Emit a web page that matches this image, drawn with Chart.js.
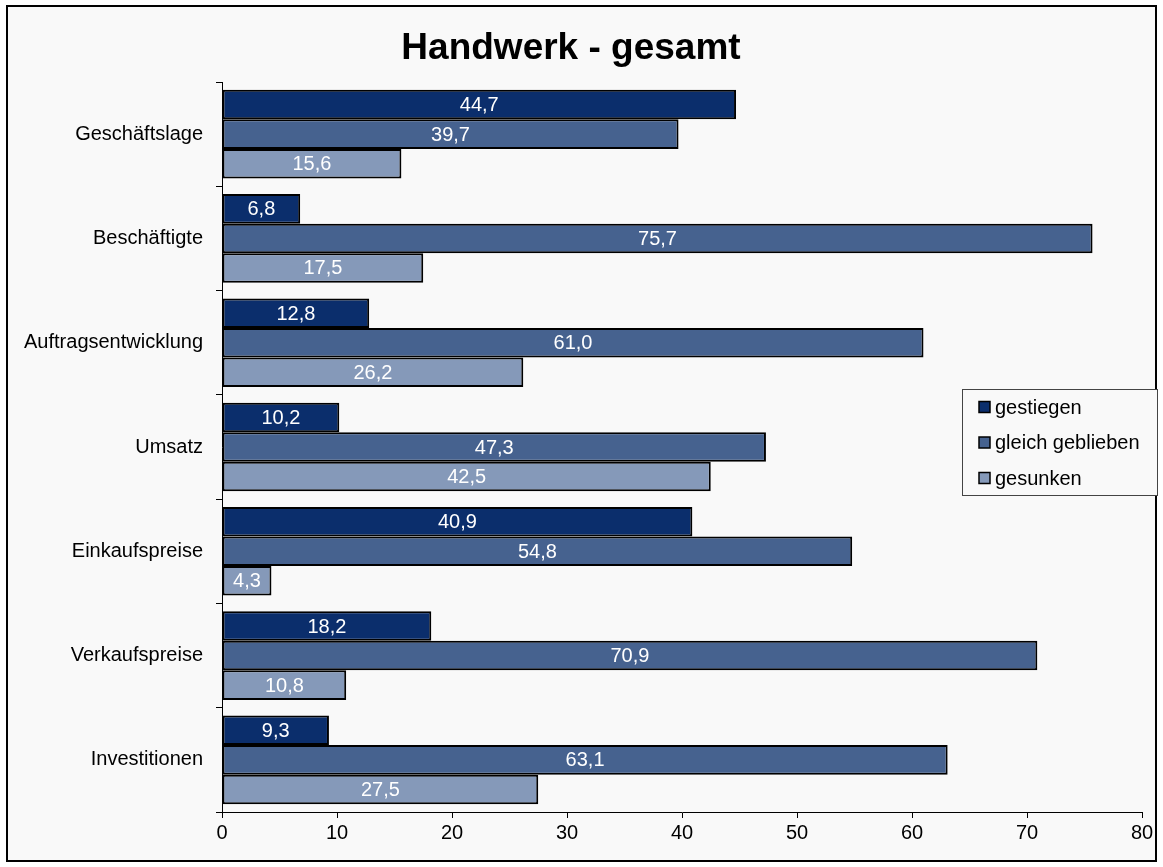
<!DOCTYPE html>
<html>
<head>
<meta charset="utf-8">
<script src="https://cdn.jsdelivr.net/npm/chart.js@4/dist/chart.umd.min.js"></script>
<style>
html,body{margin:0;padding:0;background:#ffffff;}
#wrap{position:relative;width:1163px;height:867px;}
</style>
</head>
<body>
<div id="wrap"><canvas id="c" width="1163" height="867"></canvas></div>
<script>
const titleText = "Handwerk - gesamt";
const categories = ["Geschäftslage","Beschäftigte","Auftragsentwicklung","Umsatz","Einkaufspreise","Verkaufspreise","Investitionen"];
const seriesNames = ["gestiegen","gleich geblieben","gesunken"];
const gestiegen = [44.7, 6.8, 12.8, 10.2, 40.9, 18.2, 9.3];
const gleichGeblieben = [39.7, 75.7, 61.0, 47.3, 54.8, 70.9, 63.1];
const gesunken = [15.6, 17.5, 26.2, 42.5, 4.3, 10.8, 27.5];
const xTicks = [0,10,20,30,40,50,60,70,80];
const colors = ["#0B2E6C","#46628F","#8599B9"];

const FONT = "'Liberation Sans', Arial, sans-serif";

const framePlugin = {
  id: 'frame',
  beforeDraw(chart){
    const ctx = chart.ctx;
    ctx.save();
    ctx.fillStyle = '#ffffff';
    ctx.fillRect(0,0,chart.width,chart.height);
    ctx.fillStyle = '#f9f9f9';
    ctx.fillRect(6,5,1151,857);
    ctx.strokeStyle = '#000000';
    ctx.lineWidth = 2;
    ctx.strokeRect(7,6,1149,855);
    ctx.restore();
  }
};

const labelPlugin = {
  id: 'valueLabels',
  afterDatasetsDraw(chart){
    const ctx = chart.ctx;
    ctx.save();
    ctx.font = "20px " + FONT;
    ctx.fillStyle = '#ffffff';
    ctx.textAlign = 'center';
    ctx.textBaseline = 'middle';
    chart.data.datasets.forEach((ds, di) => {
      const meta = chart.getDatasetMeta(di);
      meta.data.forEach((bar, i) => {
        const v = ds.data[i];
        const txt = v.toFixed(1).replace('.', ',');
        const cx = (bar.x + bar.base) / 2;
        ctx.fillText(txt, cx, bar.y + 1);
      });
    });
    ctx.restore();
  }
};

const legendPlugin = {
  id: 'boxLegend',
  afterDraw(chart){
    const ctx = chart.ctx;
    ctx.save();
    const x0 = 962, y0 = 389, w = 195, h = 106;
    ctx.fillStyle = '#f9f9f9';
    ctx.fillRect(x0, y0, w, h);
    ctx.strokeStyle = '#444444';
    ctx.lineWidth = 1;
    ctx.strokeRect(x0 + 0.5, y0 + 0.5, w, h);
    ctx.font = "20px " + FONT;
    ctx.textBaseline = 'middle';
    ctx.textAlign = 'left';
    chart.data.datasets.forEach((ds, i) => {
      const cy = 407 + i * 35.5;
      ctx.fillStyle = ds.backgroundColor;
      ctx.fillRect(979, cy - 5.5, 11, 11);
      ctx.strokeStyle = '#000000';
      ctx.lineWidth = 1.5;
      ctx.strokeRect(979, cy - 5.5, 11, 11);
      ctx.fillStyle = '#000000';
      ctx.fillText(ds.label, 995, cy + 1);
    });
    ctx.restore();
  }
};

const chart = new Chart(document.getElementById('c'), {
  type: 'bar',
  data: {
    labels: categories,
    datasets: [
      {label: seriesNames[0], data: gestiegen, backgroundColor: colors[0]},
      {label: seriesNames[1], data: gleichGeblieben, backgroundColor: colors[1]},
      {label: seriesNames[2], data: gesunken, backgroundColor: colors[2]}
    ].map(d => Object.assign(d, {borderColor:'#000000', borderWidth:2, borderSkipped:false, categoryPercentage:0.85, barPercentage:1.0}))
  },
  options: {
    indexAxis: 'y',
    responsive: false,
    animation: false,
    devicePixelRatio: 1,
    layout: {padding: {left: 0, right: 21, top: 0, bottom: 0}},
    plugins: {
      legend: {display: false},
      tooltip: {enabled: false},
      title: {
        display: true,
        text: titleText,
        color: '#000000',
        font: {family: FONT, size: 37, weight: 'bold', lineHeight: 1.2},
        padding: {top: 27, bottom: 10.6}
      }
    },
    scales: {
      y: {
        offset: true,
        grid: {display: true, drawOnChartArea: false, offset: true, color: '#000000', tickLength: 6, tickColor:'#000000'},
        border: {display: true, color: '#000000', width: 1},
        ticks: {color: '#000000', font: {family: FONT, size: 20}, padding: 13},
        afterFit(scale){ scale.width = 222; }
      },
      x: {
        min: 0, max: 80,
        afterBuildTicks(scale){ scale.ticks = xTicks.map(v => ({value: v})); },
        grid: {display: true, drawOnChartArea: false, color: '#000000', tickLength: 6, tickColor:'#000000'},
        border: {display: true, color: '#000000', width: 1},
        ticks: {color: '#000000', font: {family: FONT, size: 20}, padding: 3, maxRotation: 0},
        afterFit(scale){ scale.height = 55; }
      }
    }
  },
  plugins: [framePlugin, labelPlugin, legendPlugin]
});
</script>
</body>
</html>
